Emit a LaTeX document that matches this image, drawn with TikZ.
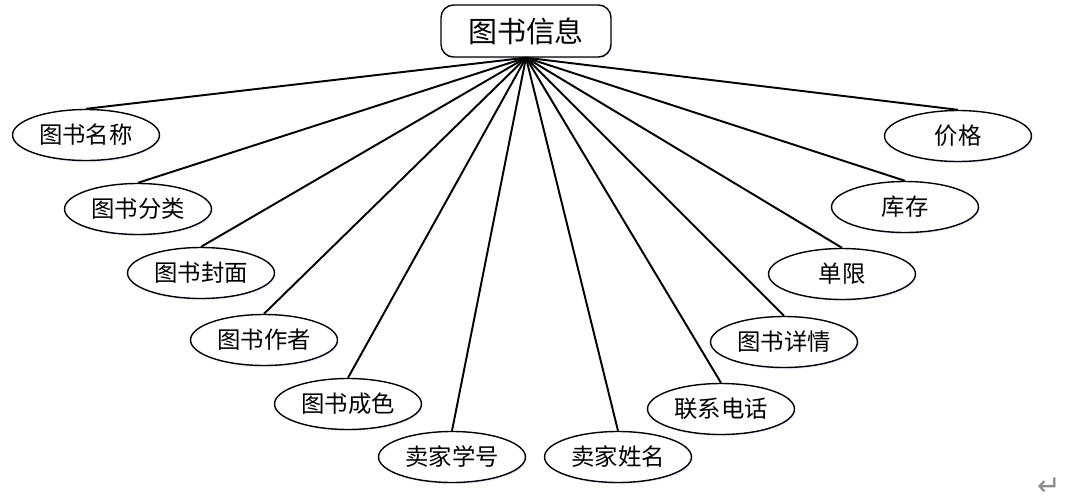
\documentclass[tikz,border=0pt]{standalone}
\usepackage{fontspec}
\newfontfamily\cjk{Noto Sans CJK SC}
\newfontfamily\symb{DejaVu Sans}
\usetikzlibrary{shapes.geometric,shadows}
\tikzstyle{attr}=[ellipse,draw=black,line width=.8pt,fill=white,minimum width=2.94cm,minimum height=1.02cm,inner sep=0pt,font=\cjk\fontsize{13.3}{15}\selectfont,drop shadow={shadow xshift=.6pt,shadow yshift=-.9pt,fill=blue!25,opacity=.35}]
\tikzstyle{ent}=[rectangle,rounded corners=.25cm,draw=black,line width=.8pt,fill=white,minimum width=3.4cm,minimum height=1.04cm,inner sep=0pt,font=\cjk\fontsize{16.5}{18}\selectfont,drop shadow={shadow xshift=.6pt,shadow yshift=-.9pt,fill=blue!25,opacity=.35}]
\tikzstyle{edge}=[line width=1.1pt]

\begin{document}
\begin{tikzpicture}[x=0.02cm,y=-0.02cm]
\useasboundingbox (0,0) rectangle (1073,501);
% attributes, left side
\node[attr] (name) at (86,135) {图书名称};
\node[attr] (kind) at (138,209) {图书分类};
\node[attr] (cover) at (201,273) {图书封面};
\node[attr] (author) at (264,340) {图书作者};
\node[attr] (cond) at (348,404) {图书成色};
\node[attr] (sid) at (452,457) {卖家学号};
% attributes, right side
\node[attr] (sname) at (618,457) {卖家姓名};
\node[attr] (tel) at (721,409) {联系电话};
\node[attr] (detail) at (784,342) {图书详情};
\node[attr] (limit) at (842,274) {单限};
\node[attr] (stock) at (905,207) {库存};
\node[attr] (price) at (958,136) {价格};
% entity
\node[ent] (book) at (526,31) {图书信息};
\draw[edge] (book.south)--(name.north);
\draw[edge] (book.south)--(kind.north);
\draw[edge] (book.south)--(cover.north);
\draw[edge] (book.south)--(author.north);
\draw[edge] (book.south)--(cond.north);
\draw[edge] (book.south)--(sid.north);
\draw[edge] (book.south)--(sname.north);
\draw[edge] (book.south)--(tel.north);
\draw[edge] (book.south)--(detail.north);
\draw[edge] (book.south)--(limit.north);
\draw[edge] (book.south)--(stock.north);
\draw[edge] (book.south)--(price.north);
\node[text=black!45,inner sep=0pt,font=\symb\fontsize{16}{17}\selectfont] (mark) at (1049,487) {↵};
\end{tikzpicture}
\end{document}
